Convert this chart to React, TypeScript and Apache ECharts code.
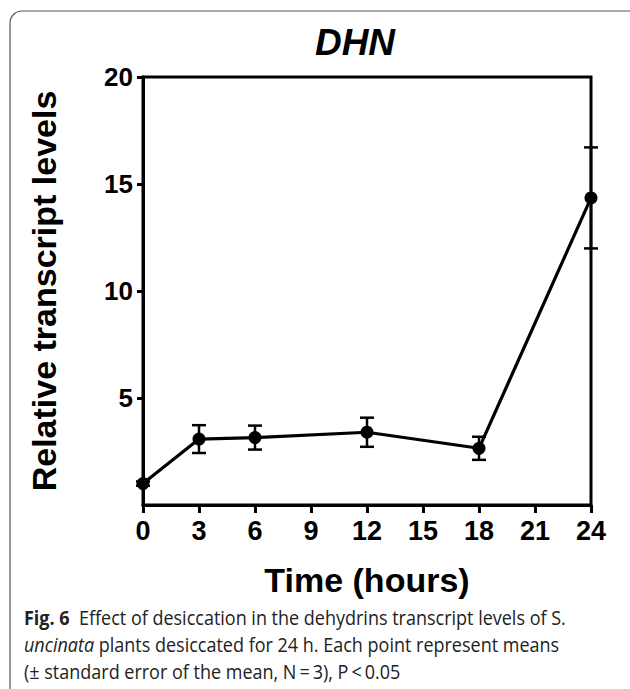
import React, { useEffect, useRef } from "react";
import * as echarts from "echarts";

const hours = [0, 3, 6, 12, 18, 24];
const means = [1.0, 3.08, 3.15, 3.4, 2.65, 14.35];
const sem = [0.1, 0.65, 0.56, 0.68, 0.54, 2.36];
const xTicks = [0, 3, 6, 9, 12, 15, 18, 21, 24];
const yTicks = [5, 10, 15, 20];

const titleText = "DHN";
const xName = "Time (hours)";
const yName = "Relative transcript levels";
const captionLines = [
  "{b|Fig. 6}  Effect of desiccation in the dehydrins transcript levels of S.",
  "{i|uncinata} plants desiccated for 24 h. Each point represent means",
  "(\u00b1 standard error of the mean, N\u2009=\u20093), P\u2009<\u20090.05",
];

const FONT = "'Liberation Sans', Arial, Helvetica, sans-serif";
const CAP_FONT = "'Open Sans', 'DejaVu Sans', sans-serif";

export default function App() {
  const ref = useRef<HTMLDivElement>(null);
  useEffect(() => {
    if (!ref.current) return;
    const chart = echarts.init(ref.current, undefined, { renderer: "svg" });
    const pts = hours.map((h, i) => [h, means[i]]);
    const errs = hours.map((h, i) => [h, means[i] - sem[i], means[i] + sem[i]]);
    chart.setOption({
      animation: false,
      backgroundColor: "#ffffff",
      grid: {
        left: 143,
        right: 39,
        top: 77,
        bottom: 184,
        show: true,
        borderColor: "#000",
        borderWidth: 3,
        backgroundColor: "transparent",
      },
      xAxis: {
        type: "value",
        min: 0,
        max: 24,
        interval: 3,
        name: xName,
        nameLocation: "middle",
        nameGap: 58,
        nameTextStyle: { fontFamily: FONT, fontWeight: "bold", fontSize: 34, color: "#000" },
        axisLine: { show: true, lineStyle: { color: "#000", width: 3 } },
        axisTick: { show: true, inside: false, length: 8, lineStyle: { color: "#000", width: 3 }, customValues: xTicks },
        axisLabel: { fontFamily: FONT, fontWeight: "bold", fontSize: 27, color: "#000", margin: 12, customValues: xTicks },
        splitLine: { show: false },
      },
      yAxis: {
        type: "value",
        min: 0,
        max: 20,
        interval: 5,
        name: yName,
        nameLocation: "middle",
        nameRotate: 90,
        nameGap: 82,
        nameTextStyle: { fontFamily: FONT, fontWeight: "bold", fontSize: 34, color: "#000" },
        axisLine: { show: true, lineStyle: { color: "#000", width: 3 } },
        axisTick: { show: true, inside: false, length: 6, lineStyle: { color: "#000", width: 3 }, customValues: yTicks },
        axisLabel: { fontFamily: FONT, fontWeight: "bold", fontSize: 26, color: "#000", margin: 10, customValues: yTicks },
        splitLine: { show: false },
      },
      graphic: [
        {
          type: "rect",
          shape: { x: 10, y: 11, width: 660, height: 720, r: 12 },
          style: { fill: "none", stroke: "#555", lineWidth: 1.2 },
          silent: true,
        },
        {
          type: "text",
          x: 355,
          y: 42,
          style: {
            text: titleText,
            fontFamily: FONT,
            fontWeight: "bold",
            fontStyle: "italic",
            fontSize: 37,
            fill: "#000",
            align: "center",
            verticalAlign: "middle",
          },
        },
        {
          type: "text",
          x: 24,
          y: 604,
          scaleX: 0.9,
          style: {
            text: captionLines.join("\n"),
            fontFamily: CAP_FONT,
            fontSize: 20,
            lineHeight: 27,
            fill: "#222",
            align: "left",
            verticalAlign: "top",
            rich: {
              b: { fontFamily: CAP_FONT, fontSize: 20, fontWeight: "bold", fill: "#222", lineHeight: 27 },
              i: { fontFamily: CAP_FONT, fontSize: 20, fontStyle: "italic", fill: "#222", lineHeight: 27 },
            },
          },
        },
      ],
      series: [
        {
          type: "custom",
          name: "SEM",
          clip: false,
          z: 3,
          data: errs,
          renderItem: (params: any, api: any) => {
            const x = api.value(0);
            const lo = api.value(1);
            const hi = api.value(2);
            const top = api.coord([x, hi]);
            const bot = api.coord([x, lo]);
            const hw = 7;
            const st = { stroke: "#000", lineWidth: 2.5 };
            return {
              type: "group",
              children: [
                { type: "line", shape: { x1: top[0], y1: top[1], x2: bot[0], y2: bot[1] }, style: st },
                { type: "line", shape: { x1: top[0] - hw, y1: top[1], x2: top[0] + hw, y2: top[1] }, style: st },
                { type: "line", shape: { x1: bot[0] - hw, y1: bot[1], x2: bot[0] + hw, y2: bot[1] }, style: st },
              ],
            };
          },
        },
        {
          type: "line",
          name: "DHN",
          data: pts,
          clip: false,
          z: 4,
          symbol: "circle",
          symbolSize: 13,
          itemStyle: { color: "#000" },
          lineStyle: { color: "#000", width: 3.2 },
        },
      ],
    });
    return () => chart.dispose();
  }, []);
  return (
    <div
      ref={ref}
      style={{ position: "absolute", left: 0, top: 0, width: 630, height: 689 }}
    />
  );
}
